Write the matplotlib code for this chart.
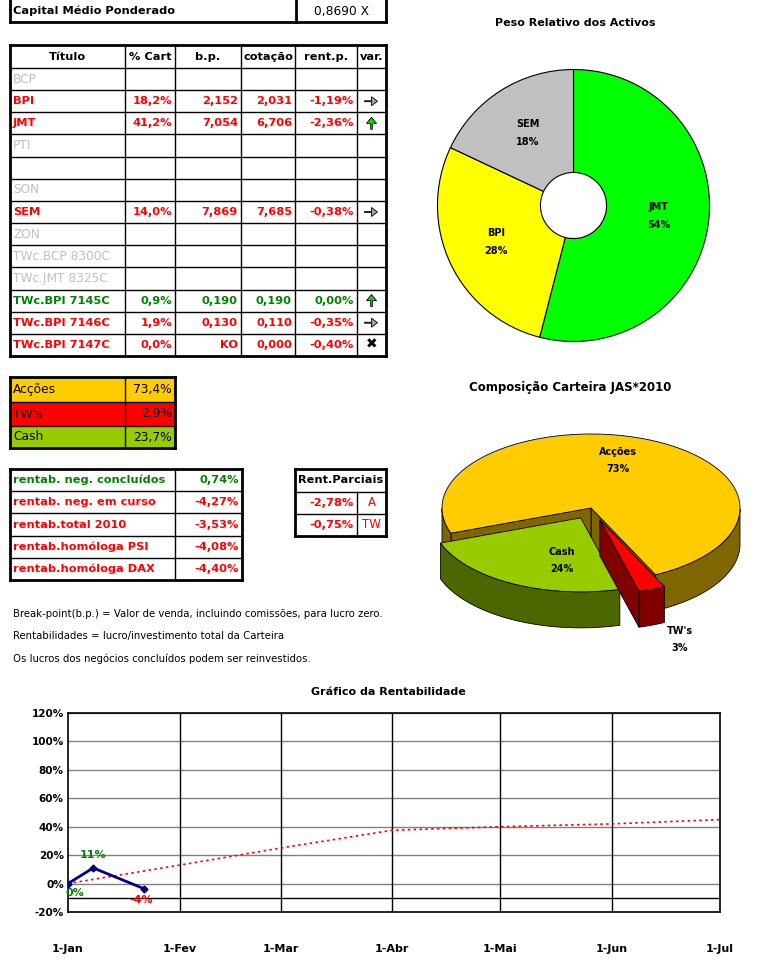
import matplotlib
matplotlib.use("Agg")
import matplotlib.pyplot as plt
import numpy as np
import datetime as dt
from matplotlib.patches import Polygon, FancyArrow

W, H = 762, 969

# ---- data ----
capital_label = "Capital Médio Ponderado"
capital_value = "0,8690 X"

table_header = ["Título", "% Cart", "b.p.", "cotação", "rent.p.", "var."]
titulos = ["BCP", "BPI", "JMT", "PTI", "", "SON", "SEM", "ZON",
           "TWc.BCP 8300C", "TWc.JMT 8325C", "TWc.BPI 7145C",
           "TWc.BPI 7146C", "TWc.BPI 7147C"]
pct_cart = ["", "18,2%", "41,2%", "", "", "", "14,0%", "", "", "", "0,9%", "1,9%", "0,0%"]
break_point = ["", "2,152", "7,054", "", "", "", "7,869", "", "", "", "0,190", "0,130", "KO"]
cotacao = ["", "2,031", "6,706", "", "", "", "7,685", "", "", "", "0,190", "0,110", "0,000"]
rent_p = ["", "-1,19%", "-2,36%", "", "", "", "-0,38%", "", "", "", "0,00%", "-0,35%", "-0,40%"]
variacao = ["", "right", "up", "", "", "", "right", "", "", "", "up", "right", "x"]
row_state = ["off", "neg", "neg", "off", "off", "off", "neg", "off", "off", "off", "pos", "neg", "neg"]

comp_labels = ["Acções", "TW's", "Cash"]
comp_values = [73.4, 2.9, 23.7]
comp_text = ["73,4%", "2,9%", "23,7%"]

rent_labels = ["rentab. neg. concluídos", "rentab. neg. em curso", "rentab.total 2010",
               "rentab.homóloga PSI", "rentab.homóloga DAX"]
rent_values = ["0,74%", "-4,27%", "-3,53%", "-4,08%", "-4,40%"]
rent_state = ["pos", "neg", "neg", "neg", "neg"]

parciais_values = ["-2,78%", "-0,75%"]
parciais_tags = ["A", "TW"]

notes = ["Break-point(b.p.) = Valor de venda, incluindo comissões, para lucro zero.",
         "Rentabilidades = lucro/investimento total da Carteira",
         "Os lucros dos negócios concluídos podem ser reinvestidos."]

donut_labels = ["JMT", "BPI", "SEM"]
donut_values = [54, 28, 18]

real_dates = [dt.date(2010, 1, 1), dt.date(2010, 1, 8), dt.date(2010, 1, 22)]
real_values = [0, 11, -3.5]
real_text = ["0%", "11%", "-4%"]
trend_dates = [dt.date(2010, m, 1) for m in range(1, 8)]
trend_values = [0, 13, 25, 37.5, 40, 42, 45]
month_labels = ["1-Jan", "1-Fev", "1-Mar", "1-Abr", "1-Mai", "1-Jun", "1-Jul"]

# ---- styling ----
RED, GREEN, GRAY = "#FF0000", "#008000", "#C0C0C0"
state_color = {"neg": RED, "pos": GREEN, "off": GRAY}
FS = 8.2
plt.rcParams["font.family"] = ["DejaVu Sans"]

fig = plt.figure(figsize=(W / 100, H / 100), dpi=100)
cv = fig.add_axes([0, 0, 1, 1])
cv.set_xlim(0, W)
cv.set_ylim(H, 0)
cv.axis("off")


def grid(xs, ys, lw_out=2.0, lw_in=1.0, skip_v=None):
    for i, x in enumerate(xs):
        edge = i in (0, len(xs) - 1)
        y0 = ys[0] if skip_v is None or i not in skip_v else skip_v[i]
        cv.plot([x, x], [y0, ys[-1]], color="black", lw=lw_out if edge else lw_in,
                solid_capstyle="projecting")
    for j, y in enumerate(ys):
        edge = j in (0, len(ys) - 1)
        cv.plot([xs[0], xs[-1]], [y, y], color="black", lw=lw_out if edge else lw_in,
                solid_capstyle="projecting")


def cell_text(x0, x1, y0, y1, s, align="left", color="black", bold=True, fs=FS, **kw):
    yc = (y0 + y1) / 2
    if align == "left":
        x, ha = x0 + 3, "left"
    elif align == "right":
        x, ha = x1 - 3, "right"
    else:
        x, ha = (x0 + x1) / 2, "center"
    cv.text(x, yc, s, ha=ha, va="center", color=color, fontsize=fs,
            fontweight="bold" if bold else "normal", **kw)


# capital box
cv.plot([10, 10], [-2, 22], color="black", lw=2)
cv.plot([386, 386], [-2, 22], color="black", lw=2)
cv.plot([296, 296], [-2, 22], color="black", lw=2)
cv.plot([10, 386], [22, 22], color="black", lw=2)
cell_text(10, 296, 0, 22, capital_label)
cell_text(296, 386, 0, 22, capital_value, align="center", bold=False, fs=8.8)

# main table
cols = [10, 125, 175, 241, 295, 357, 386]
rows = [45, 68] + [68 + (i + 1) * 22.15 for i in range(len(titulos))]
grid(cols, rows)
for k, h in enumerate(table_header):
    cell_text(cols[k], cols[k + 1], rows[0], rows[1], h, align="center")
for i, name in enumerate(titulos):
    y0, y1 = rows[i + 1], rows[i + 2]
    st = row_state[i]
    col = state_color[st]
    cell_text(cols[0], cols[1], y0, y1, name, color=col, bold=(st != "off"),
              fs=FS if st != "off" else 8.7)
    for k, vals in enumerate([pct_cart, break_point, cotacao, rent_p]):
        cell_text(cols[k + 1], cols[k + 2], y0, y1, vals[i], align="right", color=col)
    yc = (y0 + y1) / 2
    xc = (cols[5] + cols[6]) / 2
    if variacao[i] == "right":
        cv.add_patch(FancyArrow(xc - 7, yc, 13, 0, width=1.0, head_width=9, head_length=6,
                                length_includes_head=True, fc="#A0A0A0", ec="black", lw=0.6))
    elif variacao[i] == "up":
        cv.add_patch(FancyArrow(xc, yc + 6, 0, -12, width=1.6, head_width=10, head_length=6,
                                length_includes_head=True, fc="#00E000", ec="black", lw=0.6))
    elif variacao[i] == "x":
        cv.text(xc, yc, "✖", ha="center", va="center", fontsize=10, color="black")

# composition table
comp_bg = ["#FFCC00", "#FF0000", "#99CC00"]
cx_ = [10, 125, 175]
cy_ = [377, 402, 426, 448]
for i in range(3):
    cv.fill_between([cx_[0], cx_[2]], cy_[i], cy_[i + 1], color=comp_bg[i], lw=0)
    cell_text(cx_[0], cx_[1], cy_[i], cy_[i + 1], comp_labels[i], bold=False, fs=8.8)
    cell_text(cx_[1], cx_[2], cy_[i], cy_[i + 1], comp_text[i], align="right", bold=False, fs=8.8)
grid(cx_, cy_)

# rentabilidade table
rx_ = [10, 175, 242]
ry_ = [469 + i * 22.2 for i in range(6)]
grid(rx_, ry_)
for i, lab in enumerate(rent_labels):
    col = state_color[rent_state[i]]
    cell_text(rx_[0], rx_[1], ry_[i], ry_[i + 1], lab, color=col)
    cell_text(rx_[1], rx_[2], ry_[i], ry_[i + 1], rent_values[i], align="right", color=col)

# rent. parciais table
px_ = [295, 357, 386]
py_ = [469, 491.5, 514, 536]
grid(px_, py_, skip_v={1: 491.5})
cell_text(px_[0], px_[2], py_[0], py_[1], "Rent.Parciais", align="center")
for i in range(2):
    cell_text(px_[0], px_[1], py_[i + 1], py_[i + 2], parciais_values[i], align="right", color=RED)
    cell_text(px_[1], px_[2], py_[i + 1], py_[i + 2], parciais_tags[i], align="center",
              color=RED, bold=False, fs=8.5)

for i, s in enumerate(notes):
    cv.text(13, 614 + i * 22.5, s, ha="left", va="center", fontsize=7.3)

# ---- donut ----
dc, dr = (573.5, 205.5), 136
ad = fig.add_axes([(dc[0] - 140) / W, 1 - (dc[1] + 140) / H, 280 / W, 280 / H])
wedges, texts = ad.pie(donut_values, colors=["#00FF00", "#FFFF00", "#C0C0C0"],
                       labels=[f"{n}\n{v}%" for n, v in zip(donut_labels, donut_values)],
                       labeldistance=0.63, startangle=90, counterclock=False, radius=1,
                       wedgeprops=dict(width=0.757, edgecolor="black", linewidth=0.8),
                       textprops=dict(fontsize=7, fontweight="bold", linespacing=2.0))
for t in texts:
    t.set_ha("center")
    t.set_va("center")
ad.set_xlim(-140 / dr, 140 / dr)
ad.set_ylim(-140 / dr, 140 / dr)
ad.axis("off")
cv.text(575, 23, "Peso Relativo dos Activos", ha="center", va="center", fontsize=8, fontweight="bold")

# ---- 3D pie ----
cv.text(570, 387, "Composição Carteira JAS*2010", ha="center", va="center", fontsize=8.5,
        fontweight="bold")
a3 = fig.add_axes([425 / W, 1 - 700 / H, 335 / W, 280 / H])
a3.set_xlim(425, 760)
a3.set_ylim(700, 420)
a3.axis("off")
c3x, c3y, rx3, ry3, dep = 591, 508, 149, 74, 36
tops = {"Acções": "#FFCC00", "TW's": "#FF0000", "Cash": "#99CC00"}
sides = {"Acções": "#806600", "TW's": "#800000", "Cash": "#4C6600"}
explode = {"Acções": 0.0, "TW's": 0.17, "Cash": 0.15}
lab_r = {"Acções": (0.48, 0.69), "TW's": (1.53, 1.73), "Cash": (0.27, 0.65)}
total = sum(comp_values)
ang = 199.9
slices = []
for lab, v in zip(comp_labels, comp_values):
    span = 360 * v / total
    a0, a1 = ang - span, ang
    ang = a0
    mid = np.radians((a0 + a1) / 2)
    ox = explode[lab] * rx3 * np.cos(mid)
    oy = -explode[lab] * ry3 * np.sin(mid)
    slices.append((np.sin(mid), lab, v, a0, a1, ox, oy, mid))
slices.sort(key=lambda s: -s[0])
for _, lab, v, a0, a1, ox, oy, mid in slices:
    x0, y0 = c3x + ox, c3y + oy
    t = np.radians(np.linspace(a0, a1, 300))
    px = x0 + rx3 * np.cos(t)
    py = y0 - ry3 * np.sin(t)
    # radial walls facing the viewer
    for tt, nrm in ((np.radians(a0), np.radians(a0) - np.pi / 2),
                    (np.radians(a1), np.radians(a1) + np.pi / 2)):
        if np.sin(nrm) < 0:
            ex, ey = x0 + rx3 * np.cos(tt), y0 - ry3 * np.sin(tt)
            a3.add_patch(Polygon([(x0, y0), (ex, ey), (ex, ey + dep), (x0, y0 + dep)],
                                 closed=True, fc=sides[lab], ec="black", lw=0.6))
    # outer rim (front half)
    front = np.sin(t) <= 0
    idx = np.flatnonzero(front)
    if idx.size:
        runs = np.split(idx, np.flatnonzero(np.diff(idx) > 1) + 1)
        for r in runs:
            xs, ys = px[r], py[r]
            a3.add_patch(Polygon(np.column_stack([np.r_[xs, xs[::-1]], np.r_[ys, ys[::-1] + dep]]),
                                 closed=True, fc=sides[lab], ec="black", lw=0.6))
    a3.add_patch(Polygon(np.column_stack([np.r_[x0, px], np.r_[y0, py]]), closed=True,
                         fc=tops[lab], ec="black", lw=0.6))
for _, lab, v, a0, a1, ox, oy, mid in slices:
    fx, fy = lab_r[lab]
    lx = c3x + ox + fx * rx3 * np.cos(mid)
    ly = c3y + oy - fy * ry3 * np.sin(mid)
    a3.text(lx, ly, f"{lab}\n{round(v):d}%", ha="center", va="center", fontsize=7,
            fontweight="bold", linespacing=1.9)

# ---- line chart ----
cv.text(388, 692, "Gráfico da Rentabilidade", ha="center", va="center", fontsize=8, fontweight="bold")
al = fig.add_axes([68 / W, 1 - 912 / H, 652 / W, 199 / H])
al.set_xlim(trend_dates[0], trend_dates[-1])
al.set_ylim(-20, 120)
al.set_yticks(range(-20, 121, 20))
al.set_yticklabels([f"{v}%" for v in range(-20, 121, 20)], fontsize=7.5, fontweight="bold")
al.set_xticks(trend_dates)
al.set_xticklabels(month_labels, fontsize=8, fontweight="bold")
al.tick_params(axis="x", length=0, pad=23)
al.tick_params(axis="y", length=0, pad=3)
for v in range(0, 121, 20):
    al.axhline(v, color="#808080", lw=1, zorder=1)
for d in trend_dates[1:-1]:
    al.axvline(d, color="black", lw=1, zorder=1)
al.axhline(-10, color="black", lw=1, zorder=1)
for s in al.spines.values():
    s.set_linewidth(1.2)
al.plot(trend_dates, trend_values, color="red", lw=1.2, ls=(0, (1.5, 2)), zorder=3, clip_on=False)
al.plot(real_dates, real_values, color="#000080", lw=2, marker="D", ms=3.5, zorder=4)
offs = [(5, -7), (0, 9), (-2, -8)]
cols_lbl = [GREEN, GREEN, RED]
for d, v, s, o, c in zip(real_dates, real_values, real_text, offs, cols_lbl):
    al.annotate(s, (d, v), xytext=o, textcoords="offset points", ha="center", va="center",
                fontsize=8, fontweight="bold", color=c)

fig.savefig("out.png", dpi=100)
